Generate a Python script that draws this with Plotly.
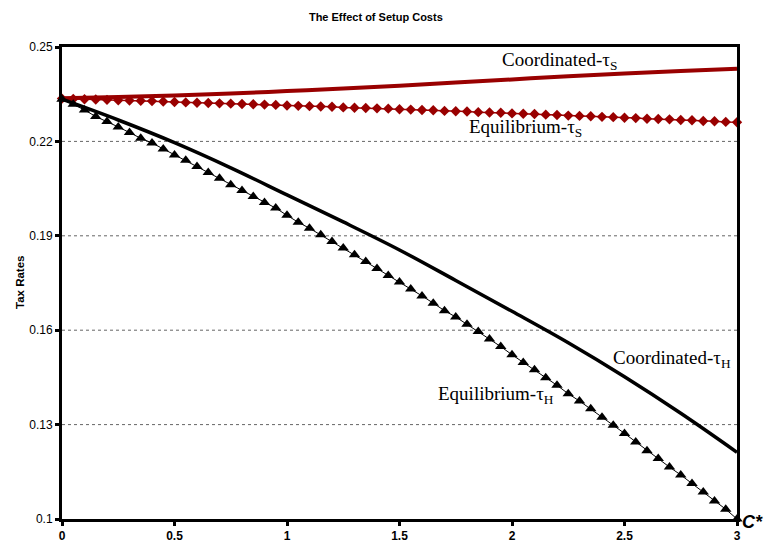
"""Tax rates under coordinated vs. equilibrium setups as setup cost C* rises."""

import plotly.graph_objects as go

RED = "#990000"
BLACK = "#000000"

# ---- data ---------------------------------------------------------------- #
# marker series are sampled every 0.05 in C*
c_marker = [round(0.05 * i, 2) for i in range(61)]

equilibrium_tau_s = [
    0.2336, 0.2335, 0.2334, 0.2333, 0.2332, 0.2331, 0.2330, 0.2329, 0.2328, 0.2327,
    0.2325, 0.2324, 0.2323, 0.2322, 0.2321, 0.2320, 0.2319, 0.2318, 0.2317, 0.2316,
    0.2314, 0.2313, 0.2312, 0.2311, 0.2310, 0.2308, 0.2307, 0.2306, 0.2305, 0.2304,
    0.2302, 0.2301, 0.2300, 0.2299, 0.2297, 0.2296, 0.2295, 0.2293, 0.2292, 0.2291,
    0.2289, 0.2288, 0.2287, 0.2285, 0.2284, 0.2282, 0.2281, 0.2280, 0.2278, 0.2277,
    0.2275, 0.2274, 0.2272, 0.2271, 0.2270, 0.2268, 0.2267, 0.2265, 0.2264, 0.2262,
    0.2261,
]

equilibrium_tau_h = [
    0.2334, 0.2318, 0.2300, 0.2279, 0.2263, 0.2246, 0.2228, 0.2210, 0.2195, 0.2176,
    0.2157, 0.2140, 0.2120, 0.2101, 0.2083, 0.2062, 0.2044, 0.2025, 0.2006, 0.1988,
    0.1965, 0.1943, 0.1924, 0.1903, 0.1882, 0.1861, 0.1840, 0.1818, 0.1796, 0.1774,
    0.1753, 0.1731, 0.1709, 0.1686, 0.1662, 0.1642, 0.1619, 0.1596, 0.1572, 0.1548,
    0.1522, 0.1497, 0.1474, 0.1449, 0.1425, 0.1398, 0.1375, 0.1350, 0.1323, 0.1298,
    0.1272, 0.1245, 0.1217, 0.1192, 0.1165, 0.1140, 0.1113, 0.1086, 0.1057, 0.1031,
    0.1000,
]

# plain line series, every 0.25 in C*
c_line = [0, 0.25, 0.5, 0.75, 1.0, 1.25, 1.5, 1.75, 2.0, 2.25, 2.5, 2.75, 3.0]
coordinated_tau_s = [0.2337, 0.2341, 0.2346, 0.2352, 0.2360, 0.2368, 0.2377,
                     0.2387, 0.2397, 0.2407, 0.2416, 0.2424, 0.2431]
coordinated_tau_h = [0.2334, 0.2268, 0.2196, 0.2116, 0.2030, 0.1944, 0.1855,
                     0.1758, 0.1660, 0.1560, 0.1452, 0.1336, 0.1212]

x_ticks = [0, 0.5, 1, 1.5, 2, 2.5, 3]
x_tick_labels = ["0", "0.5", "1", "1.5", "2", "2.5", "3"]
y_ticks = [0.1, 0.13, 0.16, 0.19, 0.22, 0.25]
y_tick_labels = ["0.1", "0.13", "0.16", "0.19", "0.22", "0.25"]

# curve labels: (text, C*, tax rate)
curve_labels = [
    ("Coordinated-τ<sub>S</sub>", 2.21, 0.2454),
    ("Equilibrium-τ<sub>S</sub>", 2.06, 0.2244),
    ("Coordinated-τ<sub>H</sub>", 2.71, 0.1510),
    ("Equilibrium-τ<sub>H</sub>", 1.93, 0.1395),
]

SANS = "Liberation Sans, Arial, sans-serif"
SERIF = "Liberation Serif, Times New Roman, serif"

fig = go.Figure()

# gridlines drawn as dotted horizontal shapes (the 0.25 / 0.1 edges are the frame)
for yv in y_ticks[1:-1]:
    fig.add_shape(type="line", xref="paper", x0=0, x1=1, y0=yv, y1=yv,
                  line=dict(color="#666666", width=1, dash="dot"), layer="below")

fig.add_trace(go.Scatter(
    x=c_line, y=coordinated_tau_s, mode="lines",
    line=dict(color=RED, width=4, shape="spline"), cliponaxis=False, showlegend=False,
))
fig.add_trace(go.Scatter(
    x=c_marker, y=equilibrium_tau_s, mode="lines+markers",
    line=dict(color=RED, width=1.5),
    marker=dict(symbol="diamond", size=8, color=RED),
    cliponaxis=False, showlegend=False,
))
fig.add_trace(go.Scatter(
    x=c_line, y=coordinated_tau_h, mode="lines",
    line=dict(color=BLACK, width=3.5, shape="spline"), cliponaxis=False, showlegend=False,
))
fig.add_trace(go.Scatter(
    x=c_marker, y=equilibrium_tau_h, mode="lines+markers",
    line=dict(color=BLACK, width=1),
    marker=dict(symbol="triangle-up", size=10, color=BLACK),
    cliponaxis=False, showlegend=False,
))

for text, cx, cy in curve_labels:
    fig.add_annotation(x=cx, y=cy, text=text, showarrow=False,
                       font=dict(family=SERIF, size=19, color=BLACK))

fig.add_annotation(xref="paper", yref="paper", x=1, y=0, xanchor="left", yanchor="middle",
                   xshift=3, yshift=-3, text="<b><i>C*</i></b>", showarrow=False,
                   font=dict(family=SANS, size=18, color=BLACK))
fig.add_annotation(xref="paper", yref="paper", x=0, y=0.5, xshift=-50,
                   text="<b>Tax Rates</b>", textangle=-90, showarrow=False,
                   font=dict(family=SANS, size=11.5, color=BLACK))

axis_common = dict(showgrid=False, zeroline=False, showline=True, mirror=True,
                   automargin=False, linecolor=BLACK, linewidth=3,
                   ticks="outside", ticklen=4, tickwidth=3, tickcolor=BLACK)

fig.update_layout(
    width=767, height=543, autosize=False,
    margin=dict(l=62, r=30, t=47, b=24),
    paper_bgcolor="white", plot_bgcolor="white",
    title=dict(text="<b>The Effect of Setup Costs</b>", x=0.49, xanchor="center",
               y=0.968, yanchor="middle", yref="container",
               font=dict(family=SANS, size=11, color=BLACK)),
    xaxis=dict(range=[0, 3], tickvals=x_ticks,
               ticktext=[f"<b>{t}</b>" for t in x_tick_labels],
               tickfont=dict(family=SANS, size=12, color=BLACK), **axis_common),
    yaxis=dict(range=[0.1, 0.25], tickvals=y_ticks, ticktext=y_tick_labels,
               tickfont=dict(family=SANS, size=12, color=BLACK), **axis_common),
)

# the page body has a default 8px margin; drop it so the 767x543 figure sits at 0,0
fig.write_html("out.html", config={"displayModeBar": False},
               post_script="document.body.style.margin = '0';")
